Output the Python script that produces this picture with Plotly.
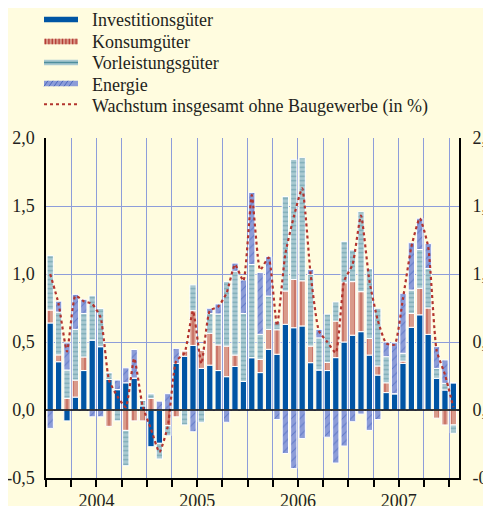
import plotly.graph_objects as go

# ---------------- data (monthly, Jan 2004 .. Jan 2008) ----------------
months = list(range(49))
invest = [0.64, 0.355, -0.08, 0.095, 0.29, 0.515, 0.466, 0.225, 0.15, 0.20, 0.235, 0.03,
          -0.27, -0.245, 0.0, 0.343, 0.395, 0.475, 0.306, 0.33, 0.29, 0.245, 0.32, 0.21,
          0.385, 0.275, 0.446, 0.41, 0.63, 0.605, 0.618, 0.348, 0.295, 0.29, 0.385, 0.50,
          0.55, 0.576, 0.404, 0.257, 0.128, 0.12, 0.343, 0.608, 0.70, 0.556, 0.233, 0.147,
          0.20]
konsum = [0.095, 0.05, 0.086, 0.125, 0.10, 0.0, 0.0, -0.12, 0.0, -0.15, -0.08, -0.08,
          0.085, 0.0, -0.115, -0.05, 0.04, 0.255, 0.134, 0.234, 0.188, 0.225, 0.084, 0.0,
          0.0, 0.097, 0.147, 0.18, 0.245, 0.355, 0.332, 0.122, 0.0, 0.06, 0.269, 0.436,
          0.394, 0.294, 0.123, 0.067, 0.072, 0.0, 0.017, 0.102, 0.195, 0.194, -0.06, -0.11,
          -0.11]
vorleist = [0.40, 0.315, 0.208, 0.373, 0.32, 0.325, 0.28, 0.05, -0.08, -0.26, 0.0, 0.04,
            0.035, -0.115, -0.075, 0.0, -0.11, 0.19, -0.09, 0.146, 0.228, 0.474, 0.616, 0.50,
            0.685, 0.184, 0.245, 0.06, 0.695, 0.883, 0.905, 0.527, 0.235, 0.355, 0.14, 0.304,
            0.232, 0.588, 0.513, 0.424, 0.192, 0.0, 0.057, 0.172, 0.285, 0.29, 0.073, 0.049,
            -0.06]
energie = [-0.135, 0.08, 0.20, 0.257, 0.104, -0.05, -0.05, 0.0, 0.07, 0.11, 0.21, 0.0,
           0.0, 0.065, 0.12, 0.11, 0.0, -0.16, 0.0, 0.038, 0.074, -0.09, 0.06, 0.246,
           0.53, 0.454, 0.289, -0.07, -0.32, -0.43, -0.21, 0.037, 0.063, -0.20, -0.39, -0.265,
           -0.086, -0.03, -0.15, -0.07, 0.108, 0.375, 0.441, 0.348, 0.23, 0.185, 0.16, 0.172,
           0.0]
wachstum = [1.0, 0.78, 0.43, 0.84, 0.80, 0.78, 0.68, 0.22, 0.10, 0.02, 0.38, 0.03,
            -0.14, -0.31, -0.12, 0.36, 0.42, 0.73, 0.34, 0.73, 0.76, 0.86, 1.07, 0.95,
            1.58, 1.03, 1.12, 0.62, 1.15, 1.42, 1.63, 1.00, 0.58, 0.50, 0.42, 0.95,
            1.07, 1.43, 0.95, 0.66, 0.49, 0.48, 0.82, 1.20, 1.41, 1.20, 0.44, 0.26,
            0.02]
year_labels = ["2004", "2005", "2006", "2007"]
y_tick_vals = [-0.5, 0.0, 0.5, 1.0, 1.5, 2.0]
y_tick_labels = ["-0,5", "0,0", "0,5", "1,0", "1,5", "2,0"]
series_names = ["Investitionsgüter", "Konsumgüter", "Vorleistungsgüter", "Energie",
                "Wachstum insgesamt ohne Baugewerbe (in %)"]

# ---------------- styling ----------------
OFF = 8                      # page (body) margin of the browser
W, H = 491 - OFF, 506 - OFF
ML, MT = 46 - OFF, 138 - OFF
PW, PH = 413, 340
MR, MB = W - ML - PW, H - MT - PH
BG = "#FFFCDF"
GRID = "#8E9DDA"
FONT = "Liberation Serif"
TXT = "#231F20"
C_INV = "#0055A4"
C_KON, C_KON_FG = "#D99A8A", "#B53C34"
C_VOR, C_VOR_FG = "#A9C9D1", "#4E8E9C"
C_ENE, C_ENE_FG = "#8C9CD8", "#3A5BB8"
C_LINE = "#B3342E"

fig = go.Figure()
bar_specs = [
    (invest, C_INV, None),
    (konsum, C_KON, dict(shape="|", fgcolor=C_KON_FG, bgcolor=C_KON, size=6, solidity=0.25)),
    (vorleist, C_VOR, dict(shape="-", fgcolor=C_VOR_FG, bgcolor=C_VOR, size=4.5, solidity=0.3)),
    (energie, C_ENE, dict(shape="/", fgcolor=C_ENE_FG, bgcolor=C_ENE, size=6, solidity=0.18)),
]
for (vals, col, pat), name in zip(bar_specs, series_names):
    marker = dict(color=col, line=dict(color="white", width=1))
    if pat:
        marker["pattern"] = pat
    fig.add_trace(go.Bar(x=months, y=vals, name=name, marker=marker, showlegend=False))

fig.add_trace(go.Scatter(x=months, y=wachstum, name=series_names[4], mode="lines",
                         line=dict(color=C_LINE, width=2.2, dash="dot", shape="spline", smoothing=0.5),
                         yaxis="y2", showlegend=False))


# screen pixel -> paper coordinates
def px_x(px):
    return (px - OFF - ML) / PW


def px_y(py):
    return (MT + PH - (py - OFF)) / PH


# ---------------- custom legend ----------------
shapes = []
annotations = []
sym_x0, sym_x1 = 44, 78
sym_centers = [19.5, 41.5, 62.5, 83.5, 104.3]
text_centers = [20.5, 42.2, 63.2, 84.8, 106.5]
sym_h = 5.5
fills = [C_INV, C_KON, C_VOR, C_ENE]
for i, col in enumerate(fills):
    yc = sym_centers[i]
    shapes.append(dict(type="rect", xref="paper", yref="paper", x0=px_x(sym_x0), x1=px_x(sym_x1),
                       y0=px_y(yc + sym_h / 2), y1=px_y(yc - sym_h / 2), fillcolor=col,
                       line=dict(width=0), layer="above"))
xs = sym_x0 + 1.5
while xs < sym_x1:
    shapes.append(dict(type="line", xref="paper", yref="paper", x0=px_x(xs), x1=px_x(xs),
                       y0=px_y(sym_centers[1] + sym_h / 2), y1=px_y(sym_centers[1] - sym_h / 2),
                       line=dict(color=C_KON_FG, width=1.3), layer="above"))
    xs += 3.4
shapes.append(dict(type="line", xref="paper", yref="paper", x0=px_x(sym_x0), x1=px_x(sym_x1),
                   y0=px_y(sym_centers[2]), y1=px_y(sym_centers[2]),
                   line=dict(color=C_VOR_FG, width=1.3), layer="above"))
xs = sym_x0
while xs < sym_x1 - 4:
    shapes.append(dict(type="line", xref="paper", yref="paper", x0=px_x(xs), x1=px_x(xs + 4),
                       y0=px_y(sym_centers[3] + sym_h / 2), y1=px_y(sym_centers[3] - sym_h / 2),
                       line=dict(color=C_ENE_FG, width=0.8), layer="above"))
    xs += 5
shapes.append(dict(type="line", xref="paper", yref="paper", x0=px_x(sym_x0), x1=px_x(sym_x1),
                   y0=px_y(sym_centers[4]), y1=px_y(sym_centers[4]),
                   line=dict(color=C_LINE, width=2, dash="dot"), layer="above"))
for name, yc in zip(series_names, text_centers):
    annotations.append(dict(text=name, xref="paper", yref="paper", x=px_x(90), y=px_y(yc),
                            xanchor="left", yanchor="middle", showarrow=False,
                            font=dict(family=FONT, size=18, color=TXT)))

# zero line on top of bars
shapes.append(dict(type="line", xref="paper", yref="y", x0=0, x1=1, y0=0, y1=0,
                   line=dict(color="black", width=1.6), layer="above"))

year_pos = [12 * k + 5.5 for k in range(len(year_labels))]

fig.update_layout(
    width=W, height=H,
    margin=dict(l=ML, r=MR, t=MT, b=MB, pad=0, autoexpand=False),
    paper_bgcolor=BG, plot_bgcolor=BG,
    barmode="relative", bargap=0.25,
    font=dict(family=FONT, size=18, color=TXT),
    shapes=shapes, annotations=annotations,
    xaxis=dict(range=[-0.5, 48.67], tickmode="array", tickvals=year_pos, ticktext=year_labels,
               ticks="outside", ticklen=6, tickwidth=1.5, tickcolor="black",
               showgrid=True, gridcolor=GRID, gridwidth=1, automargin=False,
               minor=dict(tickmode="linear", tick0=-0.5, dtick=3, ticks="outside", ticklen=7,
                          tickwidth=1.5, tickcolor="black", showgrid=True, gridcolor=GRID, gridwidth=1),
               showline=True, linecolor="black", linewidth=1.5, zeroline=False,
               tickfont=dict(family=FONT, size=18, color=TXT), fixedrange=True),
    yaxis=dict(range=[-0.5, 2.0], tickmode="array", tickvals=y_tick_vals, ticktext=y_tick_labels,
               showgrid=True, gridcolor=GRID, gridwidth=1, zeroline=False, automargin=False,
               showline=True, linecolor="black", linewidth=1.5, mirror=True,
               ticks="outside", ticklen=6, tickcolor="rgba(0,0,0,0)",
               tickfont=dict(family=FONT, size=18, color=TXT)),
    yaxis2=dict(range=[-0.5, 2.0], overlaying="y", side="right", tickmode="array",
                tickvals=y_tick_vals, ticktext=y_tick_labels, showgrid=False, zeroline=False,
                showline=False, ticks="outside", ticklen=9, tickcolor="rgba(0,0,0,0)",
                automargin=False, tickfont=dict(family=FONT, size=18, color=TXT)),
)

fig.write_html("out.html")
